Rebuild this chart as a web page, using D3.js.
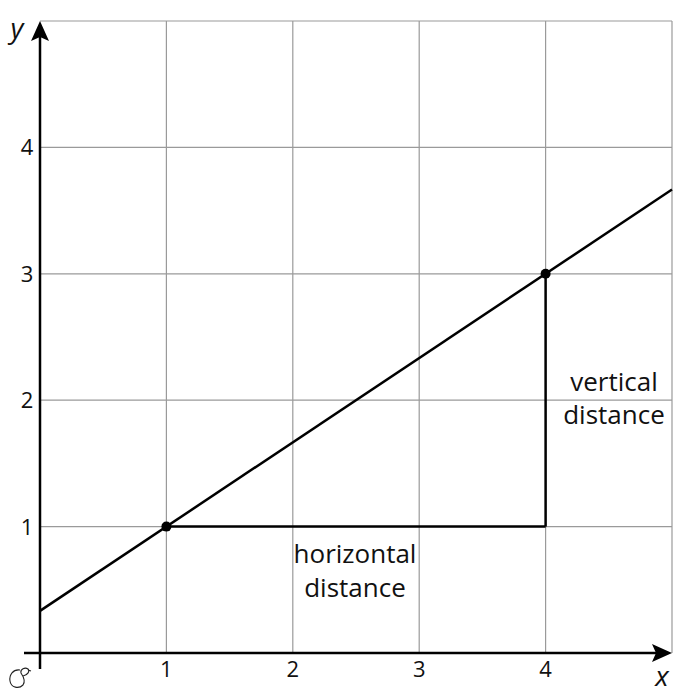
<!DOCTYPE html>
<html>
<head>
<meta charset="utf-8">
<script src="https://cdn.jsdelivr.net/npm/d3@7"></script>
<style>
  body { margin: 0; background: #fff; }
  text { font-family: "Open Sans", "Noto Sans", sans-serif; fill: #111; }
</style>
</head>
<body>
<div id="chart-area"></div>
<script>
const WIDTH = 687
const HEIGHT = 694

// data
const gridValues = [1, 2, 3, 4, 5]
const tickValues = [1, 2, 3, 4]
const linePoints = [[0, 1/3], [5, 11/3]]
const markedPoints = [[1, 1], [4, 3]]
const cornerPoint = [4, 1]

const svg = d3.select("#chart-area").append("svg")
  .attr("width", WIDTH)
  .attr("height", HEIGHT)

const x = d3.scaleLinear().domain([0, 5]).range([40, 672])
const y = d3.scaleLinear().domain([0, 5]).range([653, 21])

// grid
svg.selectAll(".vgrid").data(gridValues).enter().append("line")
  .attr("x1", d => x(d)).attr("x2", d => x(d))
  .attr("y1", y(0)).attr("y2", y(5))
  .attr("stroke", "#9a9a9a").attr("stroke-width", 1.2)

svg.selectAll(".hgrid").data(gridValues).enter().append("line")
  .attr("x1", x(0)).attr("x2", x(5))
  .attr("y1", d => y(d)).attr("y2", d => y(d))
  .attr("stroke", "#9a9a9a").attr("stroke-width", 1.2)

// axes
const arrowHead = (x0, y0, dir) => {
  if (dir === "right") return `M${x0},${y0} L${x0-20},${y0-9} L${x0-16},${y0} L${x0-20},${y0+9} Z`
  return `M${x0},${y0} L${x0-9},${y0+20} L${x0},${y0+16} L${x0+9},${y0+20} Z`
}

svg.append("line")
  .attr("x1", 24).attr("x2", x(5) - 10)
  .attr("y1", y(0)).attr("y2", y(0))
  .attr("stroke", "#000").attr("stroke-width", 2.5)
svg.append("path").attr("d", arrowHead(x(5), y(0), "right")).attr("fill", "#000")

svg.append("line")
  .attr("x1", x(0)).attr("x2", x(0))
  .attr("y1", 669).attr("y2", y(5) + 10)
  .attr("stroke", "#000").attr("stroke-width", 2.5)
svg.append("path").attr("d", arrowHead(x(0), y(5), "up")).attr("fill", "#000")

// tick labels
svg.selectAll(".xtick").data(tickValues).enter().append("text")
  .attr("x", d => x(d)).attr("y", 677)
  .attr("text-anchor", "middle").attr("font-size", "22px")
  .text(d => d)

svg.selectAll(".ytick").data(tickValues).enter().append("text")
  .attr("x", 27).attr("y", d => y(d) + 8)
  .attr("text-anchor", "middle").attr("font-size", "22px")
  .text(d => d)

// axis letters
svg.append("text").attr("x", 662).attr("y", 686)
  .attr("text-anchor", "middle").attr("font-size", "28px").attr("font-style", "italic")
  .text("x")
svg.append("text").attr("x", 17).attr("y", 38)
  .attr("text-anchor", "middle").attr("font-size", "28px").attr("font-style", "italic")
  .text("y")

// origin glyph
svg.append("path")
  .attr("d", "M20,670 C13,669 9,675 10,681 C11,688 19,689 23,685 C26,681 23,676 21,673 C20,669 25,667 28,669 C30,671 28,675 23,676 M28,670 L31,671")
  .attr("fill", "none").attr("stroke", "#222").attr("stroke-width", 1.1)

// line y = 2/3 x + 1/3
svg.append("path")
  .datum(linePoints)
  .attr("d", d3.line().x(d => x(d[0])).y(d => y(d[1])))
  .attr("stroke", "#000").attr("stroke-width", 2.5).attr("fill", "none")

// distance segments
const legs = [[markedPoints[0], cornerPoint], [cornerPoint, markedPoints[1]]]
svg.selectAll(".leg").data(legs).enter().append("path")
  .attr("d", d3.line().x(d => x(d[0])).y(d => y(d[1])))
  .attr("stroke", "#000").attr("stroke-width", 2.5).attr("fill", "none")

svg.selectAll(".pt").data(markedPoints).enter().append("circle")
  .attr("cx", d => x(d[0])).attr("cy", d => y(d[1]))
  .attr("r", 5).attr("fill", "#000")

// labels
const hx = x(2.5) - 1
svg.append("text").attr("x", hx).attr("y", 563).attr("text-anchor", "middle")
  .attr("font-size", "26px").text("horizontal")
svg.append("text").attr("x", hx).attr("y", 597).attr("text-anchor", "middle")
  .attr("font-size", "26px").text("distance")

svg.append("text").attr("x", 614).attr("y", 391).attr("text-anchor", "middle")
  .attr("font-size", "26px").text("vertical")
svg.append("text").attr("x", 614).attr("y", 424).attr("text-anchor", "middle")
  .attr("font-size", "26px").text("distance")
</script>
</body>
</html>
